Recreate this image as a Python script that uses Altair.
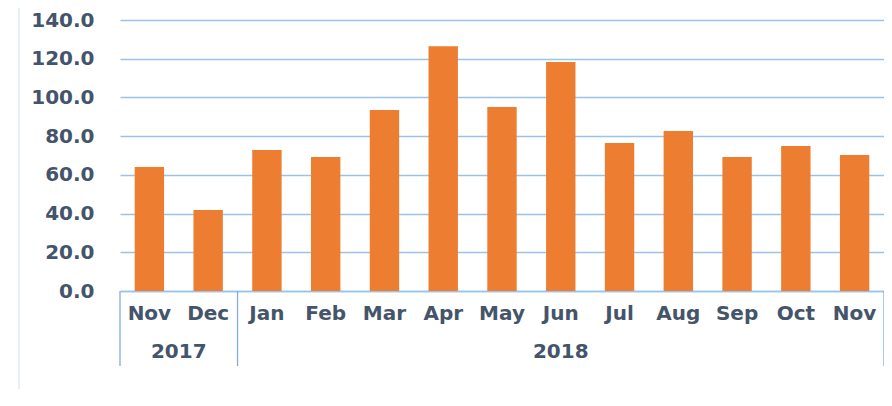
import altair as alt
import pandas as pd

months = ["Nov", "Dec", "Jan", "Feb", "Mar", "Apr", "May", "Jun", "Jul", "Aug", "Sep", "Oct", "Nov"]
years = ["2017", "2017", "2018", "2018", "2018", "2018", "2018", "2018", "2018", "2018", "2018", "2018", "2018"]
values = [64.0, 41.8, 72.8, 69.2, 93.5, 126.5, 95.0, 118.3, 76.4, 82.6, 69.2, 74.9, 70.2]
y_ticks = [0, 20, 40, 60, 80, 100, 120, 140]

LABEL_COLOR = "#44546A"
GRID_COLOR = "#9CC2E5"
SEP_COLOR = "#7FAEDD"
FONT = "DejaVu Sans"

df = pd.DataFrame({"key": [f"{m} {y}" for m, y in zip(months, years)],
                   "value": values})

# year groups: start / end index
groups = []
for i, y in enumerate(years):
    if not groups or groups[-1]["year"] != y:
        groups.append({"year": y, "start": i, "end": i + 1})
    else:
        groups[-1]["end"] = i + 1
year_df = pd.DataFrame(groups)
bounds_df = pd.DataFrame({"pos": [g["start"] for g in groups] + [len(years)]})

bars = alt.Chart(df).mark_bar(color="#ED7D31").encode(
    x=alt.X("key:N", sort=None,
            scale=alt.Scale(paddingInner=0.5, paddingOuter=0.25),
            axis=alt.Axis(title=None, labelAngle=0, ticks=False,
                          labelExpr="split(datum.label, ' ')[0]",
                          domainColor=GRID_COLOR, domainWidth=1.5,
                          labelPadding=12, labelFontSize=20, labelFont=FONT,
                          labelFontWeight="bold", labelColor=LABEL_COLOR)),
    y=alt.Y("value:Q", scale=alt.Scale(domain=[0, 140]),
            axis=alt.Axis(title=None, values=y_ticks, format=".1f",
                          domain=False, ticks=False, labelPadding=26,
                          labelFontSize=20, labelFont=FONT, labelFontWeight="bold",
                          labelColor=LABEL_COLOR, gridColor=GRID_COLOR, gridWidth=1.3)),
)

xq = alt.Scale(domain=[0, len(years)])

year_text = alt.Chart(year_df).transform_calculate(
    mid="(datum.start + datum.end) / 2"
).mark_text(fontSize=20, font=FONT, fontWeight="bold", color=LABEL_COLOR,
            baseline="middle").encode(
    x=alt.X("mid:Q", scale=xq, axis=None),
    y=alt.value(332),
    text="year:N",
)

seps = alt.Chart(bounds_df).mark_rule(color=SEP_COLOR, strokeWidth=1.3).encode(
    x=alt.X("pos:Q", scale=xq, axis=None),
    y=alt.value(271),
    y2=alt.value(346),
)

frame_left = alt.Chart(pd.DataFrame({"a": [0]})).mark_rule(color="#DDEBF7", strokeWidth=1.5).encode(
    x=alt.value(-101), y=alt.value(-15), y2=alt.value(370))
frame_top = alt.Chart(pd.DataFrame({"a": [0]})).mark_rule(color="#EEF4FB", strokeWidth=1.5).encode(
    x=alt.value(-101), x2=alt.value(764), y=alt.value(-15))

chart = alt.layer(frame_left, frame_top, bars, seps, year_text).resolve_scale(
    x="independent"
).properties(
    width=764, height=271,
    autosize=alt.AutoSizeParams(type="none"),
    padding={"left": 112, "top": 12, "right": 0, "bottom": 98},
).configure_view(stroke=None)

chart.save("out.html", embed_options={"renderer": "svg", "actions": False})
